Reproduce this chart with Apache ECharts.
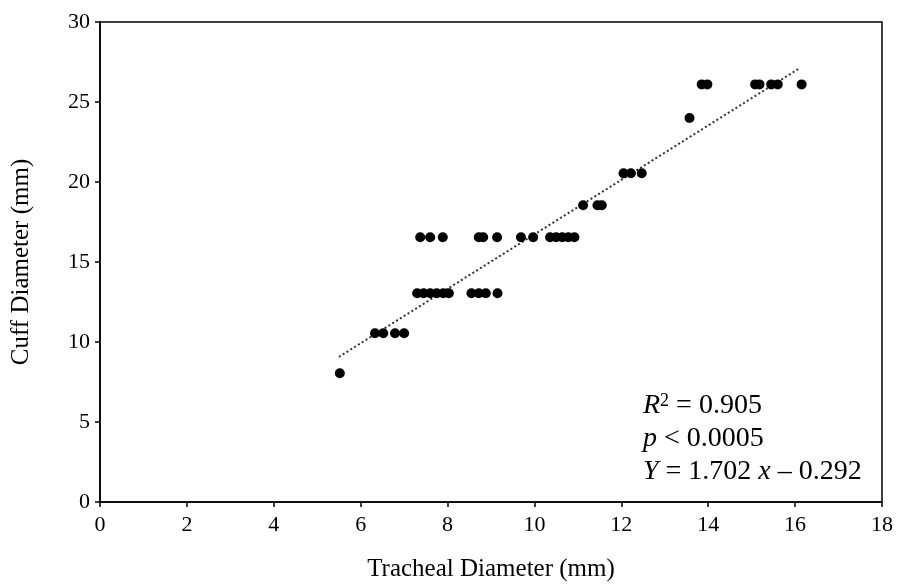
<!DOCTYPE html>
<html>
<head>
<meta charset="utf-8">
<script src="https://cdn.jsdelivr.net/npm/echarts@6/dist/echarts.min.js"></script>
<style>
    html, body {margin: 0; padding: 0; background: #fff;}
    #chart {width: 903px; height: 586px;}
</style>
</head>
<body>
<div id="chart"></div>
<script>
    // tracheal diameter (mm) and cuff diameter (mm)
    const tracheal = [
        5.52,
        6.33, 6.52, 6.79, 7.0,
        7.3, 7.45, 7.6, 7.75, 7.9, 8.03, 8.55, 8.72, 8.88, 9.15,
        7.37, 7.6, 7.89, 8.72, 8.82, 9.14, 9.69, 9.97, 10.36, 10.5, 10.64, 10.78, 10.92,
        11.12, 11.45, 11.55,
        12.05, 12.22, 12.47,
        13.57,
        13.85, 13.98, 15.08, 15.18, 15.45, 15.6, 16.15
    ];
    const cuff = [
        8.05,
        10.55, 10.55, 10.55, 10.55,
        13.05, 13.05, 13.05, 13.05, 13.05, 13.05, 13.05, 13.05, 13.05, 13.05,
        16.55, 16.55, 16.55, 16.55, 16.55, 16.55, 16.55, 16.55, 16.55, 16.55, 16.55, 16.55, 16.55,
        18.55, 18.55, 18.55,
        20.55, 20.55, 20.55,
        24.0,
        26.1, 26.1, 26.1, 26.1, 26.1, 26.1, 26.1
    ];
    // fitted line ends (Y = 1.702 x - 0.292)
    const trendX = [5.5, 16.1];
    const trendY = [9.07, 27.11];

    const xTicks = [0, 2, 4, 6, 8, 10, 12, 14, 16, 18];
    const yTicks = [0, 5, 10, 15, 20, 25, 30];

    const serif = '"Liberation Serif", "Times New Roman", serif';

    const chart = echarts.init(document.getElementById('chart'));

    const axisCommon = {
        axisLine: {show: true, onZero: false, lineStyle: {color: '#000', width: 1.5}},
        axisTick: {show: true, inside: false, length: 5, lineStyle: {color: '#000', width: 1.5}},
        splitLine: {show: false},
        nameTextStyle: {fontFamily: serif, fontSize: 25, color: '#000'}
    };

    const txt = {fontFamily: serif, fontSize: 28, fill: '#000'};
    const rich = {
        i: Object.assign({}, txt, {fontStyle: 'italic'}),
        n: txt,
        sup: {fontFamily: serif, fontSize: 18, fill: '#000', verticalAlign: 'top'}
    };

    const option = {
        animation: false,
        backgroundColor: '#fff',
        grid: {
            left: 100, right: 21, top: 22, bottom: 84,
            outerBoundsMode: 'none', containLabel: false,
            show: true, borderColor: '#000', borderWidth: 1.5
        },
        xAxis: Object.assign({}, axisCommon, {
            type: 'value',
            min: xTicks[0],
            max: xTicks[xTicks.length - 1],
            interval: 2,
            name: 'Tracheal Diameter (mm)',
            nameLocation: 'middle',
            nameGap: 55,
            axisLabel: {fontFamily: serif, fontSize: 22, color: '#000', margin: 12}
        }),
        yAxis: Object.assign({}, axisCommon, {
            type: 'value',
            min: yTicks[0],
            max: yTicks[yTicks.length - 1],
            interval: 5,
            name: 'Cuff Diameter (mm)',
            nameLocation: 'middle',
            nameGap: 66,
            axisLabel: {fontFamily: serif, fontSize: 22, color: '#000', margin: 10}
        }),
        series: [
            {
                type: 'line',
                data: trendX.map((x, i) => [x, trendY[i]]),
                symbol: 'none',
                lineStyle: {color: '#333', width: 2, type: [2, 2.5]},
                z: 1
            },
            {
                type: 'scatter',
                data: tracheal.map((x, i) => [x, cuff[i]]),
                symbol: 'circle',
                symbolSize: 10,
                itemStyle: {color: '#000', opacity: 1},
                z: 3
            }
        ],
        graphic: [
            {
                type: 'text', left: 643, top: 392,
                style: {text: '{i|R}{sup|2}{n| = 0.905}', rich: rich}
            },
            {
                type: 'text', left: 643, top: 425,
                style: {text: '{i|p}{n| < 0.0005}', rich: rich}
            },
            {
                type: 'text', left: 643, top: 458,
                style: {text: '{i|Y}{n| = 1.702 }{i|x}{n| \u2013 0.292}', rich: rich}
            }
        ]
    };

    chart.setOption(option);
</script>
</body>
</html>
